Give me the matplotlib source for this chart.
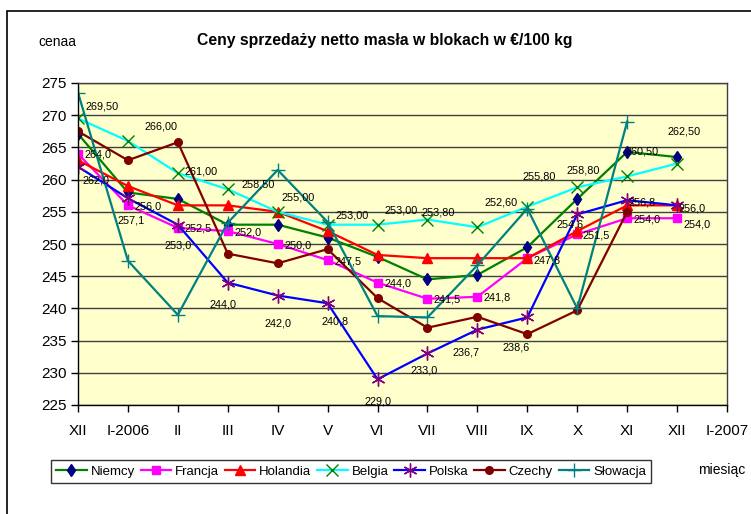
import numpy as np
import matplotlib
matplotlib.use("Agg")
import matplotlib.pyplot as plt
from matplotlib import font_manager
from matplotlib.patches import Rectangle

# --------------------------------------------------------------------------- #
# dane
# --------------------------------------------------------------------------- #
MONTHS = ["XII", "I-2006", "II", "III", "IV", "V", "VI", "VII", "VIII", "IX", "X", "XI", "XII", "I-2007"]

NIEMCY = [267.1, 258.0, 257.0, 253.0, 253.0, 251.0, 248.0, 244.5, 245.2, 249.5, 257.0, 264.3, 263.5]
FRANCJA = [264.0, 256.0, 252.5, 252.0, 250.0, 247.5, 244.0, 241.5, 241.8, 247.8, 251.5, 254.0, 254.0]
HOLANDIA = [263.0, 259.0, 256.0, 256.0, 255.0, 252.0, 248.3, 247.8, 247.8, 247.8, 252.0, 256.0, 256.0]
BELGIA = [269.5, 266.0, 261.0, 258.5, 255.0, 253.0, 253.0, 253.8, 252.6, 255.8, 258.8, 260.5, 262.5]
POLSKA = [262.0, 257.1, 253.0, 244.0, 242.0, 240.8, 229.0, 233.0, 236.7, 238.6, 254.6, 256.8, 256.0]
CZECHY = [267.5, 263.0, 265.8, 248.5, 247.0, 249.2, 241.6, 237.0, 238.7, 236.0, 239.7, 255.0, np.nan]
SLOWACJA = [273.5, 247.4, 239.0, 253.3, 261.5, 253.4, 238.8, 238.6, 246.7, 255.5, 240.0, 269.0, np.nan]

# przesunięcia etykiet danych (piksele, oś y w dół)
OFF_BELGIA = [(24, -12), (33, -14), (23, -2), (30, -5), (20, -14), (25, -9), (24, -14),
              (11, -7), (24, -25), (12, -30), (6, -17), (15, -25), (7, -32)]
OFF_FRANCJA = [(20, 1)] * 9 + [(20, 2), (19, 1), (20, 1), (20, 6)]
OFF_POLSKA = [(18, 14), (3, 22), (0, 21), (-5, 22), (0, 28), (7, 18), (0, 22),
              (-3, 17), (-11, 23), (-11, 30), (-7, 10), (15, 2), (15, 3)]

# --------------------------------------------------------------------------- #
# czcionka
# --------------------------------------------------------------------------- #
_names = {f.name for f in font_manager.fontManager.ttflist}
if "Liberation Sans Narrow" in _names:
    FONT = ["Liberation Sans Narrow", "DejaVu Sans"]
    SC = 1.15
else:
    FONT = ["Liberation Sans", "DejaVu Sans"]
    SC = 1.0
plt.rcParams["font.family"] = FONT

BG = "#FFFFCC"

fig = plt.figure(figsize=(7.51, 5.14), dpi=100)
ax = fig.add_axes([78 / 751, 1 - 405 / 514, 649 / 751, 322 / 514])
ax.set_facecolor(BG)

x = np.arange(len(NIEMCY))
LW = 1.6
ax.plot(x, NIEMCY, color="#008000", lw=LW, marker="d", ms=6.5, mfc="#000080", mec="#000080", label="Niemcy")
ax.plot(x, FRANCJA, color="#FF00FF", lw=LW, marker="s", ms=5.5, mfc="#FF00FF", mec="#FF00FF", label="Francja")
ax.plot(x, HOLANDIA, color="#FF0000", lw=LW, marker="^", ms=6.5, mfc="#FF0000", mec="#FF0000", label="Holandia")
ax.plot(x, BELGIA, color="#00FFFF", lw=LW, marker="x", ms=8.5, mew=1.0, mec="#008000", label="Belgia")
ax.plot(x, POLSKA, color="#0000FF", lw=LW, marker=(6, 2, 0), ms=10, mew=1.0, mec="#800080", label="Polska")
ax.plot(x, CZECHY, color="#800000", lw=LW, marker="o", ms=5.5, mfc="#800000", mec="#800000", label="Czechy")
ax.plot(x, SLOWACJA, color="#008080", lw=LW, marker="+", ms=10, mew=1.0, mec="#008080", label="Słowacja")


# etykiety danych
def label_series(vals, offs, fmt):
    for i, (v, (dx, dy)) in enumerate(zip(vals, offs)):
        ax.annotate(fmt.format(v).replace(".", ","), (i, v), xytext=(dx, -dy),
                    textcoords="offset pixels", ha="center", va="center",
                    fontsize=7.8 * SC, color="#000000")


label_series(BELGIA, OFF_BELGIA, "{:.2f}")
label_series(FRANCJA, OFF_FRANCJA, "{:.1f}")
label_series(POLSKA, OFF_POLSKA, "{:.1f}")

ax.set_xlim(0, len(MONTHS) - 1)
ax.set_ylim(225, 275)
ax.set_yticks(np.arange(225, 276, 5))
ax.set_xticks(np.arange(len(MONTHS)))
ax.set_xticklabels(MONTHS)
ax.tick_params(axis="both", direction="out", length=5, width=1, labelsize=11 * SC, colors="#000000")
ax.tick_params(axis="x", pad=9)
ax.tick_params(axis="y", pad=3)
ax.yaxis.grid(True, color="#404040", lw=1.0)
ax.set_axisbelow(True)
for s in ax.spines.values():
    s.set_color("#404040")
    s.set_linewidth(1.0)
ax.spines["left"].set_color("#000000")
ax.spines["bottom"].set_color("#000000")

leg = ax.legend(loc="center", bbox_to_anchor=(351 / 751, 1 - 471.5 / 514), bbox_transform=fig.transFigure,
                ncol=7, frameon=True, fancybox=False, edgecolor="#000000", fontsize=9.5 * SC,
                handlelength=2.3, handletextpad=0.3, columnspacing=0.45, borderpad=0.4)
leg.get_frame().set_linewidth(1.0)

fig.text(385 / 751, 1 - 40 / 514, "Ceny sprzedaży netto masła w blokach w €/100 kg",
         ha="center", va="center", fontsize=11.3 * SC, fontweight="bold")
fig.text(57 / 751, 1 - 42 / 514, "cenaa", ha="center", va="center", fontsize=10 * SC)
fig.text(722 / 751, 1 - 470 / 514, "miesiąc", ha="center", va="center", fontsize=10 * SC)

# ramka wykresu (przycięta z prawej i u dołu)
fig.add_artist(Rectangle((7 / 751, -0.1), 1.2, 0.1 + 1 - 11 / 514, transform=fig.transFigure,
                         fill=False, edgecolor="#000000", lw=1.2, clip_on=False))

fig.savefig("out.png", dpi=100, facecolor="white")
